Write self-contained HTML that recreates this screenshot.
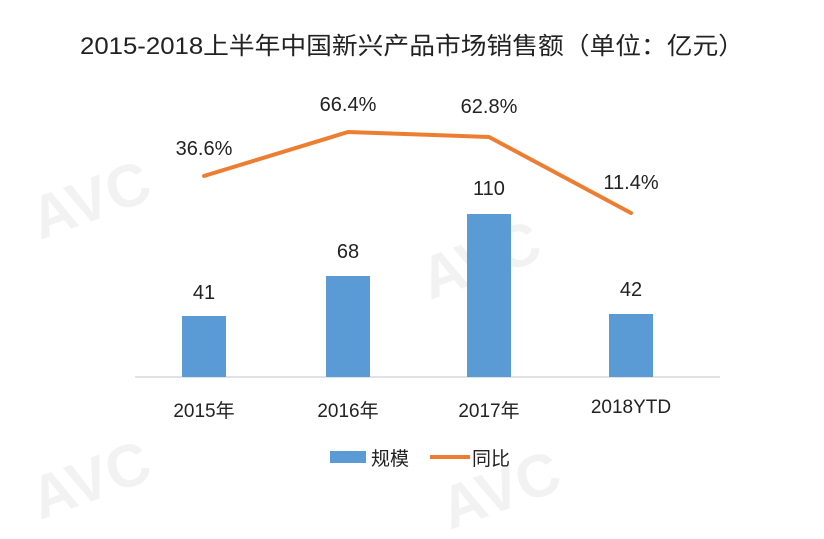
<!DOCTYPE html>
<html><head><meta charset="utf-8"><style>
body{margin:0;background:#fff;}
svg{display:block;}
text{font-family:"Liberation Sans","Noto Sans CJK SC",sans-serif;fill:#222;}
</style></head><body>
<svg width="824" height="539" viewBox="0 0 824 539">
<rect width="824" height="539" fill="#fff"/>
<g font-size="60" font-weight="bold" opacity="0.7">
<text x="40" y="240" transform="rotate(-20 40 240)" style="fill:#ececec">AVC</text>
<text x="430" y="300" transform="rotate(-20 430 300)" style="fill:#ececec">AVC</text>
<text x="40" y="520" transform="rotate(-20 40 520)" style="fill:#ececec">AVC</text>
<text x="450" y="530" transform="rotate(-20 450 530)" style="fill:#ececec">AVC</text>
</g>
<text x="412" y="54" font-size="24" text-anchor="middle" textLength="664" lengthAdjust="spacingAndGlyphs">2015-2018上半年中国新兴产品市场销售额（单位：亿元）</text>
<line x1="135" y1="377" x2="720" y2="377" stroke="#d9d9d9" stroke-width="1.5"/>
<g fill="#5b9bd5">
<rect x="182" y="316" width="44" height="61"/>
<rect x="326" y="276" width="44" height="101"/>
<rect x="467" y="214" width="44" height="163"/>
<rect x="609" y="314" width="44" height="63"/>
</g>
<g font-size="20" text-anchor="middle">
<text x="204" y="299">41</text>
<text x="348" y="258">68</text>
<text x="489" y="195">110</text>
<text x="631" y="296">42</text>
<text x="204" y="155">36.6%</text>
<text x="348" y="111">66.4%</text>
<text x="489" y="113">62.8%</text>
<text x="631" y="189">11.4%</text>
</g>
<polyline points="204,176 348,132 489,137 631,213" fill="none" stroke="#ed7d31" stroke-width="4" stroke-linejoin="round" stroke-linecap="round"/>
<g font-size="19" text-anchor="middle">
<text x="204" y="417">2015年</text>
<text x="348" y="417">2016年</text>
<text x="489" y="417">2017年</text>
<text x="631" y="413">2018YTD</text>
</g>
<rect x="330" y="451" width="36" height="12" fill="#5b9bd5"/>
<text x="371" y="465" font-size="19">规模</text>
<line x1="430" y1="457" x2="470" y2="457" stroke="#ed7d31" stroke-width="4"/>
<text x="472" y="465" font-size="19">同比</text>
</svg>
</body></html>
